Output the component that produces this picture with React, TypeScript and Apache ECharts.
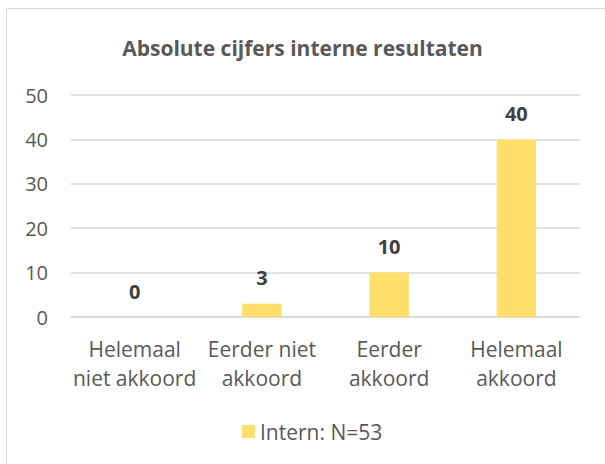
import React, { useEffect, useRef } from "react";
import * as echarts from "echarts";

const categories = ["Helemaal\nniet akkoord", "Eerder niet\nakkoord", "Eerder\nakkoord", "Helemaal\nakkoord"];
const values = [0, 3, 10, 40];
const seriesName = "Intern: N=53";
const title = "Absolute cijfers interne resultaten";

export default function App() {
  const ref = useRef<HTMLDivElement>(null);
  useEffect(() => {
    const chart = echarts.init(ref.current!, null, { renderer: "svg" });
    const font = "'Open Sans', 'Noto Sans', sans-serif";
    chart.setOption({
      animation: false,
      backgroundColor: "#ffffff",
      textStyle: { fontFamily: font },
      title: {
        text: title,
        left: "center",
        top: 32,
        textStyle: { fontFamily: font, fontSize: 21, fontWeight: "bold", color: "#595959" },
      },
      graphic: [
        {
          type: "rect",
          shape: { x: 6.5, y: 8.5, width: 620, height: 480 },
          style: { fill: "none", stroke: "#d9d9d9", lineWidth: 1 },
          silent: true,
        },
      ],
      legend: {
        top: 416,
        left: 237,
        itemWidth: 13,
        itemHeight: 13,
        itemGap: 6,
        icon: "rect",
        textStyle: { fontFamily: font, fontSize: 21, color: "#595959" },
        data: [seriesName],
      },
      grid: { left: 71, right: 25, top: 95, bottom: 147, containLabel: false },
      xAxis: {
        type: "category",
        data: categories,
        axisLine: { lineStyle: { color: "#d9d9d9", width: 1.5 } },
        axisTick: { show: false },
        axisLabel: { fontFamily: font, fontSize: 21, color: "#595959", margin: 17, lineHeight: 29, interval: 0 },
      },
      yAxis: {
        type: "value",
        min: 0,
        max: 50,
        interval: 10,
        axisLine: { show: false },
        axisTick: { show: false },
        splitLine: { lineStyle: { color: "#d9d9d9", width: 1.5 } },
        axisLabel: { fontFamily: font, fontSize: 20, color: "#595959", margin: 23 },
      },
      series: [
        {
          name: seriesName,
          type: "bar",
          data: values,
          barWidth: "31%",
          itemStyle: { color: "#FFDF6B" },
          label: {
            show: true,
            position: "top",
            distance: 16,
            fontFamily: font,
            fontSize: 20,
            fontWeight: "bold",
            color: "#404040",
          },
        },
      ],
    });
    return () => chart.dispose();
  }, []);
  return <div ref={ref} style={{ width: 605, height: 464, position: "absolute", left: 0, top: 0 }} />;
}
